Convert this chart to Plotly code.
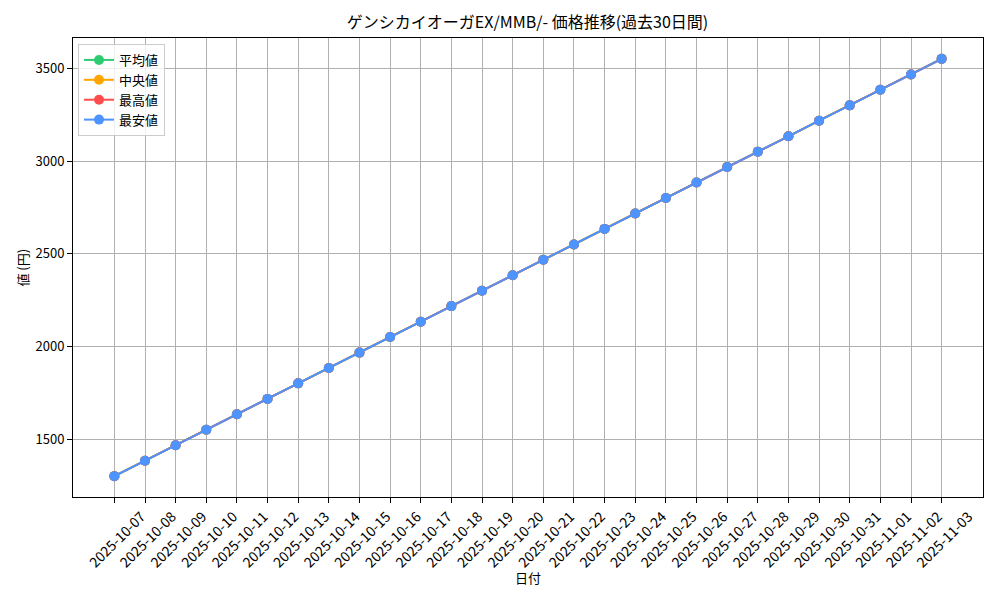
import plotly.graph_objects as go

dates = [
    "2025-10-07", "2025-10-08", "2025-10-09", "2025-10-10", "2025-10-11", "2025-10-12",
    "2025-10-13", "2025-10-14", "2025-10-15", "2025-10-16", "2025-10-17", "2025-10-18",
    "2025-10-19", "2025-10-20", "2025-10-21", "2025-10-22", "2025-10-23", "2025-10-24",
    "2025-10-25", "2025-10-26", "2025-10-27", "2025-10-28", "2025-10-29", "2025-10-30",
    "2025-10-31", "2025-11-01", "2025-11-02", "2025-11-03",
]
prices = [
    1300, 1383, 1467, 1550, 1634, 1717, 1801, 1884, 1967, 2051, 2134, 2218, 2301, 2385,
    2468, 2551, 2635, 2718, 2802, 2885, 2969, 3052, 3135, 3219, 3302, 3386, 3469, 3553,
]
avg_vals = prices
median_vals = prices
high_vals = prices
low_vals = prices

series = [
    ("平均値", avg_vals, "#2ecc71"),
    ("中央値", median_vals, "#ffa500"),
    ("最高値", high_vals, "#ff4d4d"),
    ("最安値", low_vals, "#4d94ff"),
]

font = "Noto Sans CJK JP, DejaVu Sans, sans-serif"

fig = go.Figure()
for name, vals, color in series:
    fig.add_trace(go.Scatter(
        x=list(range(len(dates))), y=vals, name=name, mode="lines+markers",
        line=dict(color=color, width=2), marker=dict(color=color, size=10),
    ))

n = len(dates)
pad_x = (n - 1) * 0.05
lo, hi = min(prices), max(prices)
pad_y = (hi - lo) * 0.05

axis_common = dict(
    showline=True, linecolor="black", linewidth=1, mirror=True,
    ticks="outside", ticklen=5, tickcolor="black",
    showgrid=True, gridcolor="#b0b0b0", gridwidth=1, zeroline=False,
    automargin=False,
)

fig.update_xaxes(
    **axis_common,
    tickmode="array", tickvals=list(range(n)), ticktext=dates, tickangle=-45,
    tickfont=dict(size=14, color="black", family=font),
    ticklabelshift=27,
    range=[-pad_x, n - 1 + pad_x],
)
fig.update_yaxes(
    **axis_common,
    tickmode="array", tickvals=[1500, 2000, 2500, 3000, 3500],
    tickfont=dict(size=13, color="black", family=font),
    range=[lo - pad_y, hi + pad_y],
)

# axis titles placed as annotations (page has an 8px body margin)
fig.add_annotation(text="日付", xref="paper", yref="paper", x=0.5, y=-0.176,
                   xanchor="center", yanchor="middle", showarrow=False,
                   font=dict(size=13, color="black", family=font))
fig.add_annotation(text="値 (円)", xref="paper", yref="paper", x=-0.056, y=0.5,
                   xanchor="center", yanchor="middle", textangle=-90, showarrow=False,
                   font=dict(size=13, color="black", family=font))

fig.update_layout(
    width=984, height=584,
    paper_bgcolor="white", plot_bgcolor="white",
    margin=dict(l=65, r=9, t=30, b=95),
    font=dict(family=font, color="black"),
    title=dict(text="ゲンシカイオーガEX/MMB/- 価格推移(過去30日間)", x=0.528, xanchor="center",
               y=0.976, yanchor="middle", yref="container", automargin=False,
               font=dict(size=16, color="black", family=font)),
    legend=dict(
        x=0.0055, y=0.987, xanchor="left", yanchor="top",
        bgcolor="rgba(255,255,255,0.8)", bordercolor="#cccccc", borderwidth=1,
        font=dict(size=13, color="black", family=font),
        tracegroupgap=0, itemwidth=30,
    ),
    showlegend=True,
)

fig.write_html("out.html")
